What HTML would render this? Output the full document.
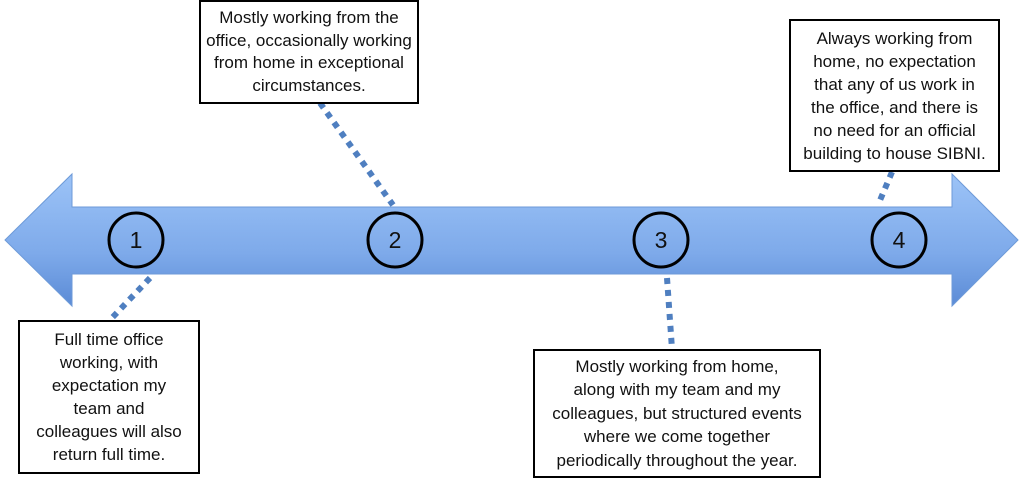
<!DOCTYPE html>
<html><head><meta charset="utf-8"><style>
body{margin:0;width:1024px;height:482px;background:#fff;position:relative;overflow:hidden;font-family:"Liberation Sans",sans-serif;}
.b{position:absolute;border:2px solid #000;background:#fff;box-sizing:border-box;display:flex;align-items:center;justify-content:center;text-align:center;font-size:17px;line-height:22.5px;color:#111;white-space:nowrap;}
svg{position:absolute;left:0;top:0}
</style></head><body>
<svg width="1024" height="482">
<defs><linearGradient id="g" x1="0" y1="0" x2="0" y2="1">
<stop offset="0" stop-color="#9cc3f7"/><stop offset="0.6" stop-color="#7eaaea"/><stop offset="1" stop-color="#5b8bd6"/></linearGradient></defs>
<polygon points="5,240 72,174 72,207 952,207 952,174 1018,240 952,306 952,274 72,274 72,306" fill="url(#g)" stroke="#6d9ad8" stroke-width="1"/>
<g stroke="#4f7fc0" stroke-width="6" stroke-dasharray="6,6" fill="none">
<line x1="320" y1="103" x2="393" y2="205"/>
<line x1="150" y1="278" x2="110" y2="320"/>
<line x1="667" y1="278" x2="672" y2="349"/>
<line x1="892" y1="172" x2="878" y2="205"/>
</g>
<g fill="none" stroke="#000" stroke-width="3">
<circle cx="136" cy="240" r="27"/><circle cx="395" cy="240" r="27"/><circle cx="661" cy="240" r="27"/><circle cx="899" cy="240" r="27"/>
</g>
<g font-family="Liberation Sans,sans-serif" font-size="23" text-anchor="middle" fill="#111">
<text x="136" y="248">1</text><text x="395" y="248">2</text><text x="661" y="248">3</text><text x="899" y="248">4</text>
</g>
</svg>
<div class="b" style="left:199px;top:0px;width:220px;height:104px">Mostly working from the<br>office, occasionally working<br>from home in exceptional<br>circumstances.</div>
<div class="b" style="left:789px;top:19px;width:211px;height:153px;line-height:23px">Always working from<br>home, no expectation<br>that any of us work in<br>the office, and there is<br>no need for an official<br>building to house SIBNI.</div>
<div class="b" style="left:18px;top:320px;width:182px;height:154px;line-height:23px">Full time office<br>working, with<br>expectation my<br>team and<br>colleagues will also<br>return full time.</div>
<div class="b" style="left:533px;top:349px;width:288px;height:129px;line-height:23.5px">Mostly working from home,<br>along with my team and my<br>colleagues, but structured events<br>where we come together<br>periodically throughout the year.</div>
</body></html>
